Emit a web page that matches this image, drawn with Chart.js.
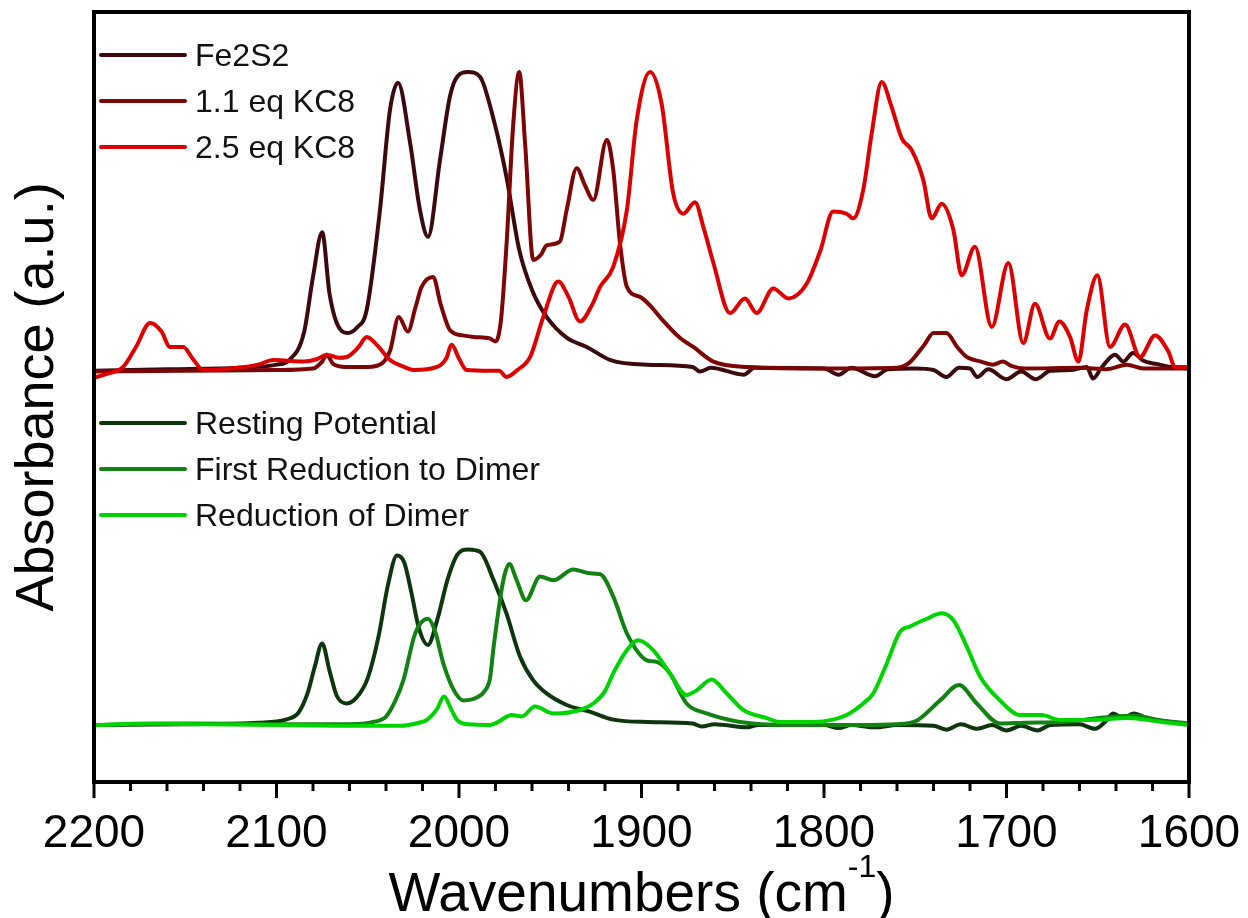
<!doctype html>
<html lang="en">
<head>
    <meta charset="utf-8">
    <title>IR spectra</title>
    <script src="https://cdn.jsdelivr.net/npm/chart.js"></script>
    <style>
        html, body { margin: 0; padding: 0; background: #fff; }
        .wrap { width: 1248px; height: 918px; }
    </style>
</head>
<body>
    <div class="wrap"><canvas id="irChart"></canvas></div>
    <script>
        // wavenumber (cm-1) / absorbance pairs, arbitrary units
        const fe2s2Wn  = [2200, 2160, 2120, 2100, 2093, 2085, 2080, 2075, 2071, 2067, 2061.5, 2056, 2050.6, 2043.3, 2037.8, 2033.4, 2026.8, 2021.4, 2017, 2010.4, 2005, 2001, 1995, 1988.5, 1981, 1974, 1967, 1960, 1952, 1941, 1930, 1917, 1897, 1872, 1868, 1862, 1844, 1838, 1800, 1792, 1785, 1772, 1765, 1750, 1740, 1733, 1726, 1720, 1716, 1710, 1700, 1692, 1684, 1676, 1665, 1656, 1652.6, 1648, 1640.5, 1636, 1630.7, 1625, 1618, 1610, 1600];
        const fe2s2Abs = [53.4, 53.6, 53.8, 54.2, 54.8, 58.3, 65.6, 71.4, 63.5, 59.6, 58.3, 59, 61.3, 74.3, 87.3, 90.8, 83, 74.3, 70.8, 80.8, 89, 91.6, 92.2, 91.6, 86, 78.6, 69.1, 63.9, 60.4, 57.7, 56.5, 54.8, 54.2, 53.9, 53.3, 53.8, 52.9, 53.8, 53.7, 52.9, 53.8, 52.7, 53.6, 53.7, 53.5, 52.6, 53.8, 53.7, 52.6, 53.6, 52.3, 53.3, 52.3, 53.4, 53.5, 53.9, 52.4, 53.8, 55.5, 54.6, 55.7, 54.7, 54.3, 53.9, 53.7];

        const kc11Wn  = [2200, 2150, 2100, 2080, 2075, 2072.5, 2069, 2062, 2050, 2042, 2037.8, 2033, 2028, 2024, 2020.5, 2014.2, 2010, 2005, 1998, 1992, 1983, 1980, 1977, 1973.9, 1970.4, 1967, 1963.8, 1959.3, 1955, 1952, 1944.7, 1941, 1935.5, 1931, 1926.4, 1919, 1915.5, 1911.8, 1908, 1900.8, 1895, 1890, 1879, 1871.6, 1860.6, 1842, 1800, 1760, 1753, 1745, 1740, 1733, 1727, 1721.8, 1714, 1707.4, 1702, 1697, 1690, 1660, 1645, 1634, 1625, 1600];
        const kc11Abs = [53.3, 53.4, 53.5, 53.7, 54.6, 55.5, 54.3, 53.9, 53.9, 54.4, 56, 60.4, 58.5, 61.5, 64.3, 65.6, 62, 58.7, 58, 57.8, 57.6, 57.2, 60, 70, 85, 92.2, 83, 67.8, 68.5, 69.7, 70.2, 74.3, 79.7, 77.5, 75.6, 83.4, 79.5, 70, 64.3, 63, 61.8, 60.4, 57.7, 56.5, 54.6, 53.9, 53.7, 53.8, 54.5, 56.8, 58.3, 58.3, 56.5, 55.2, 54.6, 54.2, 54.6, 54, 53.7, 53.8, 53.6, 54.2, 53.7, 53.7];

        const kc25Wn  = [2200, 2193, 2184, 2177, 2169.3, 2163, 2158.4, 2151, 2146, 2140, 2125.5, 2110, 2101.8, 2093, 2085.3, 2078, 2072.5, 2066, 2061.5, 2055, 2050.6, 2044, 2037.8, 2030, 2025, 2012, 2007, 2004, 2000, 1995.8, 1983, 1978, 1973.9, 1968, 1961, 1953.8, 1945.6, 1940, 1933.7, 1927, 1922.7, 1915.5, 1908, 1902.6, 1895.3, 1889, 1882.6, 1877, 1870.7, 1866, 1860.6, 1851.5, 1843.3, 1836.9, 1827.8, 1819.6, 1809.5, 1802, 1795, 1787.6, 1784, 1778.5, 1774, 1768.4, 1763, 1757.4, 1752, 1745.6, 1741, 1735.5, 1729.1, 1724.6, 1717.3, 1708.1, 1699, 1690.8, 1684.4, 1676.2, 1671, 1665.2, 1660.6, 1656, 1650.2, 1643.3, 1635, 1626.8, 1618.6, 1611.3, 1607.7, 1602, 1600];
        const kc25Abs = [52.5, 53, 53.9, 56.5, 59.6, 58.5, 56.5, 56.5, 55, 53.5, 53.7, 54.2, 54.8, 54.7, 54.6, 54.9, 55.5, 55.1, 55.2, 56.5, 57.8, 56.5, 54.8, 53.9, 53.5, 53.9, 55, 56.8, 55, 53.5, 53.4, 53.4, 52.6, 53.5, 55.2, 60.4, 65, 63, 59.8, 62, 64.3, 66.9, 74.3, 86, 92.2, 88.1, 76.4, 73.8, 75.3, 72, 67.4, 60.9, 62.8, 60.9, 64.1, 62.8, 64.7, 69, 74.1, 73.8, 73.2, 76.9, 84, 90.9, 87.7, 83.6, 82.1, 78.2, 73.2, 75.1, 71.7, 65.8, 69.5, 59.1, 67.4, 57, 62.1, 57.6, 59.8, 57.8, 54.6, 61.3, 65.8, 56.5, 59.4, 55.2, 58, 55.9, 53.9, 53.9, 53.7];

        const restWn  = [2200, 2150, 2110, 2095, 2088, 2083, 2079, 2075, 2071, 2067, 2061.5, 2056, 2050, 2044, 2039, 2034, 2030, 2026, 2022, 2017, 2012, 2006, 2001, 1995, 1988.5, 1981, 1974, 1966.6, 1959.3, 1952, 1941, 1928, 1915.5, 1897, 1872, 1867, 1860, 1842, 1836, 1800, 1792, 1785, 1772, 1760, 1740, 1733, 1725, 1716, 1708, 1700, 1692, 1683, 1676, 1660, 1651.5, 1646, 1641.5, 1636, 1630.5, 1622, 1610, 1600];
        const restAbs = [7.4, 7.5, 7.7, 8.1, 9, 11.5, 15, 18, 14.5, 11.2, 10.2, 11, 13.5, 19, 25.5, 29.4, 28.5, 24.5, 20, 17.8, 21, 26.5, 29.5, 30.2, 29.9, 26.2, 21.9, 16.3, 13.2, 11.5, 10, 9.1, 8.1, 7.8, 7.6, 7.2, 7.5, 7.1, 7.4, 7.4, 7, 7.4, 7.1, 7.4, 7.3, 6.8, 7.5, 6.9, 7.4, 6.7, 7.3, 6.7, 7.4, 7.5, 6.9, 7.8, 8.9, 8.3, 8.9, 8.2, 7.8, 7.5];

        const firstWn  = [2200, 2150, 2100, 2060, 2047, 2040, 2035, 2030.5, 2024, 2017, 2013, 2008.6, 2003, 1997.6, 1990, 1986, 1983, 1981, 1975.7, 1972.4, 1968.4, 1963.3, 1955.6, 1948.3, 1937.4, 1928.2, 1922.7, 1915.5, 1908, 1897, 1891.7, 1884.4, 1875.3, 1864.3, 1846, 1820, 1780, 1760, 1749, 1736.4, 1726, 1716.3, 1703.6, 1690, 1670, 1645, 1630, 1615, 1600];
        const firstAbs = [7.4, 7.6, 7.5, 7.5, 7.8, 8.5, 10.5, 13.2, 19.3, 21.2, 19.5, 15.4, 12, 10.6, 11, 11.8, 13.5, 17.6, 26.2, 28.3, 26.2, 23.6, 26.7, 26.2, 27.6, 27.1, 27, 24.1, 19.3, 15.8, 15.6, 14.1, 10.2, 8.9, 7.8, 7.4, 7.4, 7.5, 8, 10.6, 12.6, 10.2, 7.6, 7.7, 7.8, 8.4, 8.6, 8, 7.6];

        const dimerWn  = [2200, 2170, 2140, 2100, 2060, 2032, 2022, 2017.7, 2012, 2008.2, 2004, 2001, 1995, 1983, 1979.3, 1971.1, 1965.6, 1958.4, 1948.3, 1933.7, 1926.4, 1920, 1915.5, 1908, 1901.8, 1893.5, 1884.4, 1875.3, 1869.8, 1861.6, 1853.3, 1844.2, 1831.4, 1824.1, 1805.9, 1795, 1787.6, 1778.5, 1773, 1765.6, 1758.4, 1752.9, 1743.7, 1735.5, 1729.1, 1721.8, 1714.5, 1703.6, 1692.6, 1680.7, 1670.7, 1650, 1634, 1615, 1600];
        const dimerAbs = [7.4, 7.6, 7.5, 7.4, 7.3, 7.3, 7.7, 8.05, 9.5, 11.1, 9.3, 8.05, 7.5, 7.4, 7.7, 8.7, 8.5, 9.8, 8.9, 9.35, 10.2, 11.8, 14.1, 17.1, 18.4, 17.1, 14.1, 11.3, 11.9, 13.3, 11.5, 9.35, 8.3, 7.8, 7.8, 8.1, 8.7, 10.2, 11.5, 15.4, 19.5, 20.2, 21.2, 21.9, 21, 17.6, 13.7, 10.6, 8.7, 8.7, 8.05, 8.1, 8.3, 7.8, 7.4];

        const seriesNames  = ['Fe2S2', '1.1 eq KC8', '2.5 eq KC8', 'Resting Potential', 'First Reduction to Dimer', 'Reduction of Dimer'];
        const seriesColors = ['#3c0a0c', '#7c0606', '#dc0000', '#0e360e', '#128212', '#00d400'];
        const xTicks = [2200, 2100, 2000, 1900, 1800, 1700, 1600];

        const allWn  = [fe2s2Wn, kc11Wn, kc25Wn, restWn, firstWn, dimerWn];
        const allAbs = [fe2s2Abs, kc11Abs, kc25Abs, restAbs, firstAbs, dimerAbs];

        const FONT = "'Liberation Sans', Arial, sans-serif";

        const datasets = seriesNames.map((name, i) => ({
            label: name,
            data: allWn[i].map((w, j) => ({ x: w, y: allAbs[i][j] })),
            borderColor: seriesColors[i],
            borderWidth: 4,
            pointRadius: 0,
            fill: false,
            cubicInterpolationMode: 'monotone',
            order: 5 - i
        }));

        // legend entries sit inside the plot, two groups
        const legendRows = [55, 101, 147, 423, 469, 515];

        const framePlugin = {
            id: 'frame',
            afterDraw(chart) {
                const ctx = chart.ctx;
                const a = chart.chartArea;
                const xs = chart.scales.x;
                ctx.save();
                // box
                ctx.strokeStyle = '#000';
                ctx.lineWidth = 4;
                ctx.strokeRect(a.left, a.top, a.right - a.left, a.bottom - a.top);
                // major + minor ticks under the x axis
                ctx.lineWidth = 3;
                for (let v = 1600; v <= 2200; v += 20) {
                    const px = xs.getPixelForValue(v);
                    const len = v % 100 === 0 ? 16 : 9;
                    ctx.beginPath();
                    ctx.moveTo(px, a.bottom);
                    ctx.lineTo(px, a.bottom + len);
                    ctx.stroke();
                }
                // legend
                seriesNames.forEach((name, i) => {
                    const y = legendRows[i];
                    ctx.strokeStyle = seriesColors[i];
                    ctx.lineWidth = 4;
                    ctx.lineCap = 'round';
                    ctx.beginPath();
                    ctx.moveTo(101, y);
                    ctx.lineTo(185, y);
                    ctx.stroke();
                    ctx.fillStyle = '#111';
                    ctx.font = '32px ' + FONT;
                    ctx.textBaseline = 'middle';
                    ctx.textAlign = 'left';
                    ctx.fillText(name, 195, y + 2);
                });
                // x axis title with superscript
                const main = 'Wavenumbers (cm';
                const sup = '-1';
                const tail = ')';
                ctx.fillStyle = '#000';
                ctx.textBaseline = 'alphabetic';
                ctx.font = '55px ' + FONT;
                const w1 = ctx.measureText(main).width;
                const w3 = ctx.measureText(tail).width;
                ctx.font = '32px ' + FONT;
                const w2 = ctx.measureText(sup).width;
                let x0 = (a.left + a.right) / 2 - (w1 + w2 + w3) / 2;
                ctx.font = '55px ' + FONT;
                ctx.fillText(main, x0, 911);
                ctx.font = '32px ' + FONT;
                ctx.fillText(sup, x0 + w1, 877);
                ctx.font = '55px ' + FONT;
                ctx.fillText(tail, x0 + w1 + w2, 911);
                ctx.restore();
            }
        };

        new Chart(document.getElementById('irChart'), {
            type: 'line',
            data: { datasets },
            options: {
                responsive: true,
                maintainAspectRatio: false,
                animation: false,
                layout: { padding: { left: 0, right: 59, top: 12, bottom: 0 } },
                plugins: {
                    legend: { display: false },
                    tooltip: { enabled: false }
                },
                scales: {
                    x: {
                        type: 'linear',
                        min: 1600,
                        max: 2200,
                        reverse: true,
                        grid: { display: false },
                        border: { display: false },
                        afterBuildTicks: (s) => { s.ticks = xTicks.map(v => ({ value: v })); },
                        afterFit: (s) => {
                            s.height = 136;
                            s.paddingLeft = 0;
                            s.paddingRight = 0;
                        },
                        ticks: {
                            autoSkip: false,
                            maxRotation: 0,
                            padding: 17,
                            color: '#000',
                            font: { family: FONT, size: 46 },
                            callback: (v) => String(v)
                        }
                    },
                    y: {
                        min: 0,
                        max: 100,
                        grid: { display: false },
                        border: { display: false },
                        ticks: { display: false },
                        afterFit: (s) => { s.width = 94; },
                        title: {
                            display: true,
                            text: 'Absorbance (a.u.)',
                            color: '#000',
                            font: { family: FONT, size: 54 },
                            padding: { top: 6, bottom: 0 }
                        }
                    }
                }
            },
            plugins: [framePlugin]
        });
    </script>
</body>
</html>
